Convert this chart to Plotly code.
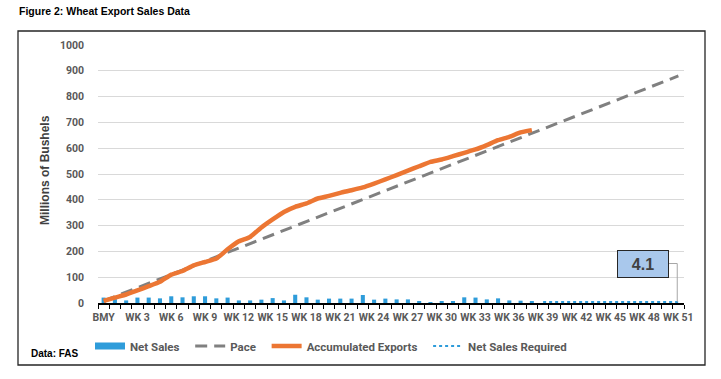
import plotly.graph_objects as go

# ---- data ----
categories = ["BMY"] + [f"WK {i}" for i in range(1, 52)]
tick_labels = [c if i % 3 == 0 else "" for i, c in enumerate(categories)]

net_sales_weeks = categories[:39]
net_sales = [21, 15, 10, 21, 21, 18, 26, 22, 26, 26,
             18, 21, 10, 10, 13, 19, 10, 32, 22, 13,
             17, 17, 17, 31, 13, 17, 14, 14, 5, 1,
             4, 6, 22, 21, 14, 18, 10, 9, 6]

accum_weeks = categories[:39]
accum_exports = [8, 21, 33, 49, 65, 82, 110, 124, 146, 159,
                 172, 208, 239, 256, 293, 324, 353, 373, 386, 405,
                 415, 427, 437, 448, 463, 479, 496, 513, 530, 547,
                 556, 569, 582, 595, 612, 631, 644, 661, 670]

pace_weeks = ["BMY", "WK 51"]
pace_values = [8, 880]

required_weeks = categories[39:]
net_required = [4.1, 4.1, 4.1, 4.1, 4.1, 4.1, 4.1, 4.1, 4.1, 4.1, 4.1, 4.1, 4.1]

y_ticks = [0, 100, 200, 300, 400, 500, 600, 700, 800, 900, 1000]

FONT = "Roboto, Liberation Sans"
TFONT = "Liberation Sans"
TXT = "#595959"
BLUE = "#2E9CDA"

fig = go.Figure()
fig.add_trace(go.Bar(x=net_sales_weeks, y=net_sales, name="Net Sales", showlegend=False,
                     marker=dict(color=BLUE, line=dict(width=0))))
# legend proxy for the bars (wide rectangle swatch)
fig.add_trace(go.Scatter(x=[None], y=[None], name="Net Sales\u00a0\u00a0", mode="lines",
                         line=dict(color=BLUE, width=7)))
fig.add_trace(go.Scatter(x=pace_weeks, y=pace_values, name="Pace\u00a0\u00a0", mode="lines",
                         line=dict(color="#808080", width=3, dash="12px,7px")))
fig.add_trace(go.Scatter(x=accum_weeks, y=accum_exports, name="Accumulated Exports\u00a0\u00a0",
                         mode="lines", line=dict(color="#EC7633", width=4.5, shape="spline", smoothing=0.4)))
fig.add_trace(go.Scatter(x=required_weeks, y=net_required, name="Net Sales Required",
                         mode="lines", line=dict(color=BLUE, width=2, dash="dot")))

L, R, T, B = 98, 37, 45, 76
PW = 721 - L - R
PH = 379 - T - B

def px(xp):
    return (xp - L) / PW

def py(yp):
    return (379 - B - yp) / PH

fig.update_layout(
    width=721, height=379,
    margin=dict(l=L, r=R, t=T, b=B),
    paper_bgcolor="white", plot_bgcolor="white",
    font=dict(family=FONT, color=TXT),
    bargap=0.64,
    showlegend=True,
    legend=dict(orientation="h", x=px(90), xanchor="left", y=py(346), yanchor="middle",
                font=dict(size=11.5, color=TXT, family=FONT, weight="bold"), bgcolor="rgba(0,0,0,0)",
                itemwidth=30, tracegroupgap=0),
    xaxis=dict(type="category", categoryorder="array", categoryarray=categories,
               tickmode="array", tickvals=categories, ticktext=tick_labels,
               tickson="boundaries", ticks="outside", ticklen=4, tickcolor="black", tickwidth=1,
               ticklabelstandoff=4,
               showline=True, linecolor="black", linewidth=1.5,
               showgrid=False, tickangle=0,
               tickfont=dict(size=10.5, color=TXT, family=FONT, weight="bold"),
               range=[-0.5, 51.5]),
    yaxis=dict(range=[0, 1000], tickvals=y_ticks, showgrid=True, gridcolor="#D9D9D9", gridwidth=1,
               zeroline=False, showline=False, ticks="", ticklabelstandoff=13,
               tickfont=dict(size=10.5, color=TXT, family=FONT, weight="bold")),
)

annotations = [
    dict(text="Figure 2: Wheat Export Sales Data", xref="paper", yref="paper",
         x=px(17), y=py(11), xanchor="left", yanchor="middle", showarrow=False,
         font=dict(size=10.5, color="black", family=TFONT, weight="bold")),
    dict(text="Data: FAS", xref="paper", yref="paper",
         x=px(29), y=py(353), xanchor="left", yanchor="middle", showarrow=False,
         font=dict(size=10, color="black", family=TFONT, weight="bold")),
    dict(text="Millions of Bushels", xref="paper", yref="paper", textangle=-90,
         x=px(45), y=py(170), xanchor="center", yanchor="middle", showarrow=False,
         font=dict(size=12, color="#404040", family=TFONT, weight="bold")),
    dict(text=f"{net_required[-1]}", xref="x", yref="y", x=47.86, y=153,
         xanchor="center", yanchor="middle", showarrow=False,
         width=48, height=24, borderpad=1, borderwidth=1, bordercolor="#262626",
         bgcolor="#A9C8EC", font=dict(size=16, color="#404040", family=TFONT, weight="bold")),
]
fig.update_layout(annotations=annotations)

shapes = [
    dict(type="rect", xref="paper", yref="paper", x0=px(18), x1=px(705), y0=py(365), y1=py(31),
         line=dict(color="#262626", width=1.3), fillcolor="rgba(0,0,0,0)", layer="below"),
    dict(type="line", xref="x", yref="y", x0=50.17, x1=50.9, y0=153, y1=153,
         line=dict(color="#A6A6A6", width=1)),
    dict(type="line", xref="x", yref="y", x0=50.9, x1=50.9, y0=153, y1=net_required[-1],
         line=dict(color="#A6A6A6", width=1)),
]
fig.update_layout(shapes=shapes)

fig.write_html("out.html", config={"displayModeBar": False},
               post_script="document.body.style.margin='0';document.body.style.overflow='hidden';")
